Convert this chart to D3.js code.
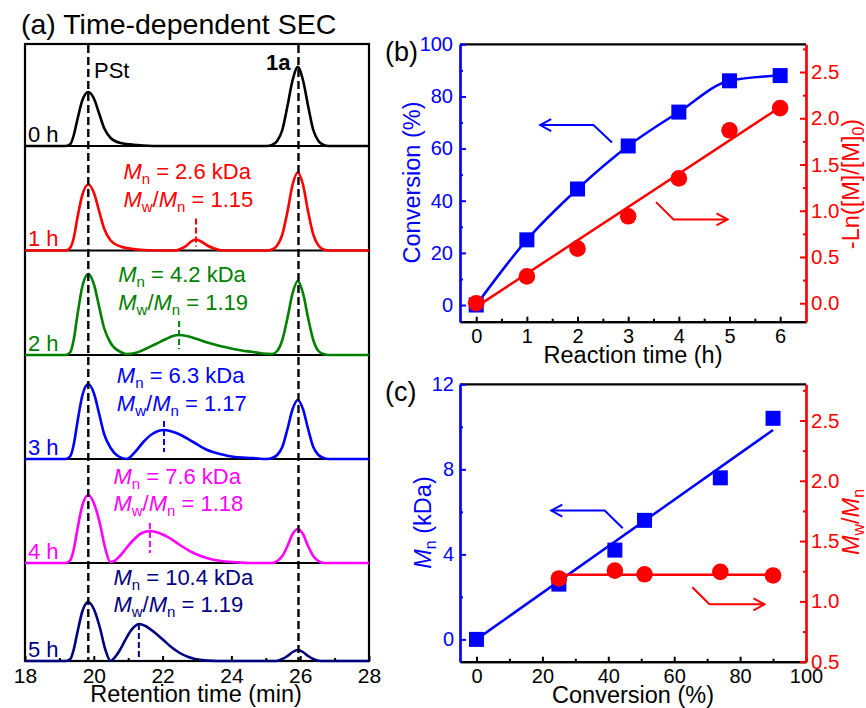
<!DOCTYPE html>
<html>
<head>
<meta charset="utf-8">
<title>Time-dependent SEC and kinetics</title>
<script src="https://cdn.jsdelivr.net/npm/d3@7"></script>
<style>
body { margin: 0; background: #fff; }
svg { font-family: "Liberation Sans", Arial, sans-serif; }
text { white-space: pre; }
</style>
</head>
<body>
<svg id="fig" width="866" height="708"></svg>
<script>
// ---- (a) SEC traces: [retention time (min), intensity] ----
const hourLabels = ["0 h", "1 h", "2 h", "3 h", "4 h", "5 h"];
const traceColors = ["#000000", "#ff0000", "#008000", "#0000ff", "#ff00ff", "#000080"];

const trace0h = [[18,0],[19.19,0],[19.32,0.02],[19.42,0.11],[19.52,0.26],[19.67,0.46],[19.84,0.54],[20.01,0.47],[20.15,0.33],[20.3,0.18],[20.49,0.08],[20.78,0.03],[21.27,0.01],[21.84,0],
  [25.03,0],[25.18,0.01],[25.33,0.05],[25.48,0.16],[25.63,0.4],[25.78,0.66],[25.93,0.79],[26.08,0.66],[26.23,0.4],[26.38,0.16],[26.53,0.05],[26.68,0.01],[26.83,0],[28,0]];
const trace1h = [[18,0],[19.19,0],[19.32,0.03],[19.42,0.13],[19.52,0.32],[19.67,0.56],[19.84,0.66],[20.01,0.57],[20.15,0.4],[20.3,0.22],[20.49,0.1],[20.78,0.04],[21.27,0.01],[21.84,0],
  [22.35,0],[22.55,0.02],[22.7,0.05],[22.83,0.09],[22.97,0.11],[23.12,0.09],[23.3,0.05],[23.5,0.02],[23.75,0],
  [25.03,0],[25.18,0.01],[25.33,0.05],[25.48,0.16],[25.63,0.39],[25.78,0.66],[25.93,0.78],[26.08,0.66],[26.23,0.39],[26.38,0.16],[26.53,0.05],[26.68,0.01],[26.83,0],[28,0]];
const trace2h = [[18,0],[19.19,0],[19.32,0.03],[19.42,0.16],[19.52,0.39],[19.67,0.69],[19.84,0.81],[20.01,0.7],[20.15,0.49],[20.3,0.27],[20.49,0.12],[20.78,0.03],[20.95,0.01],
  [21.2,0.02],[21.5,0.06],[21.8,0.11],[22.1,0.16],[22.3,0.19],[22.48,0.2],[22.7,0.19],[23.0,0.16],[23.35,0.12],[23.67,0.09],[24.0,0.065],[24.3,0.045],[24.63,0.03],[24.9,0.015],
  [25.18,0.01],[25.33,0.04],[25.48,0.15],[25.63,0.37],[25.78,0.62],[25.93,0.74],[26.08,0.62],[26.23,0.37],[26.38,0.15],[26.53,0.04],[26.68,0.01],[26.83,0],[28,0]];
const trace3h = [[18,0],[19.19,0],[19.32,0.03],[19.42,0.15],[19.52,0.36],[19.67,0.64],[19.84,0.75],[20.01,0.65],[20.15,0.46],[20.3,0.25],[20.49,0.11],[20.7,0.03],[20.96,0],
  [21.2,0.07],[21.44,0.17],[21.7,0.25],[22.04,0.29],[22.4,0.26],[22.89,0.17],[23.3,0.09],[23.67,0.05],[24.1,0.02],[24.63,0.01],
  [25.03,0],[25.18,0.01],[25.33,0.04],[25.48,0.12],[25.63,0.3],[25.78,0.5],[25.93,0.59],[26.08,0.5],[26.23,0.3],[26.38,0.12],[26.53,0.04],[26.68,0.01],[26.83,0],[28,0]];
const trace4h = [[18,0],[19.19,0],[19.32,0.03],[19.42,0.14],[19.52,0.33],[19.67,0.58],[19.84,0.68],[20.0,0.6],[20.18,0.39],[20.33,0.15],[20.48,0.01],
  [20.6,0.02],[20.76,0.07],[20.95,0.15],[21.15,0.23],[21.4,0.3],[21.63,0.32],[21.9,0.3],[22.2,0.25],[22.5,0.18],[22.9,0.1],[23.28,0.05],[23.7,0.02],[24.06,0.01],[24.5,0],
  [25.18,0],[25.33,0.02],[25.48,0.07],[25.63,0.17],[25.78,0.29],[25.93,0.34],[26.08,0.29],[26.23,0.17],[26.38,0.07],[26.53,0.02],[26.68,0],[28,0]];
const trace5h = [[18,0],[19.19,0],[19.32,0.02],[19.42,0.12],[19.52,0.28],[19.67,0.5],[19.84,0.59],[20.0,0.52],[20.18,0.33],[20.33,0.12],[20.49,0.0],
  [20.62,0.04],[20.76,0.11],[20.9,0.2],[21.05,0.29],[21.2,0.35],[21.32,0.37],[21.5,0.35],[21.75,0.29],[22.02,0.21],[22.25,0.14],[22.5,0.08],[22.75,0.04],[22.94,0.02],[23.3,0.005],[23.6,0],
  [25.3,0],[25.48,0.02],[25.63,0.05],[25.78,0.09],[25.93,0.11],[26.08,0.09],[26.23,0.05],[26.38,0.02],[26.6,0],[28,0]];
const traces = [trace0h, trace1h, trace2h, trace3h, trace4h, trace5h];

// polymer peak markers (1 h .. 5 h)
const markerTime = [22.97, 22.48, 22.04, 21.63, 21.31];
const markerTop = [0.32, 0.34, 0.38, 0.40, 0.37];
const markerBottom = [0.04, 0.06, 0.07, 0.10, 0.0];
const mnLabels = ["2.6", "4.2", "6.3", "7.6", "10.4"];
const pdiLabels = ["1.15", "1.19", "1.17", "1.18", "1.19"];
const refLines = [19.84, 25.95];   // PSt, 1a
const retTicks = [18, 20, 22, 24, 26, 28];
const retMinor = [19, 21, 23, 25, 27];

// ---- (b) kinetics ----
const timeH = [0, 1, 2, 3, 4, 5, 6];
const conversion = [0, 25, 44.5, 61, 74, 86, 88];
const lnM = [0.0, 0.29, 0.59, 0.94, 1.35, 1.87, 2.11];
const lnFitT = [0, 6];
const lnFitY = [-0.04, 2.12];
const timeTicks = [0, 1, 2, 3, 4, 5, 6];
const convTicks = [0, 20, 40, 60, 80, 100];
const lnTicks = [0, 0.5, 1.0, 1.5, 2.0, 2.5];
const arrowConvT = [2.68, 2.315, 1.263], arrowConvY = [62.3, 69.0, 69.0];
const arrowLnT = [3.55, 3.894, 4.96], arrowLnY = [1.093, 0.906, 0.906];

// ---- (c) Mn and dispersity vs conversion ----
const convC = [0, 25, 42, 51, 74, 90];
const mnC = [0, 2.6, 4.2, 5.6, 7.6, 10.4];
const convPdi = [25, 42, 51, 74, 90];
const pdiC = [1.19, 1.255, 1.225, 1.245, 1.215];
const mnFitX = [0, 90], mnFitY = [0, 9.85];
const pdiFitX = [25, 90], pdiFitY = [1.22, 1.22];
const convCTicks = [0, 20, 40, 60, 80, 100];
const mnTicks = [0, 4, 8, 12];
const pdiTicks = [0.5, 1.0, 1.5, 2.0, 2.5];
const arrowMnX = [44.4, 38.9, 22.7], arrowMnY = [5.23, 6.06, 6.06];
const arrowPdiX = [65.5, 70.7, 87.4], arrowPdiY = [1.117, 0.976, 0.976];

const BLUE = "#0000ff", RED = "#ff0000";
const svg = d3.select("#fig");

// arrow head markers
const defs = svg.append("defs");
[["headBlue", BLUE], ["headRed", RED]].forEach(([id, c]) => {
  defs.append("marker").attr("id", id)
    .attr("viewBox", "-13 -8 15 16").attr("markerWidth", 15).attr("markerHeight", 16)
    .attr("refX", 0).attr("refY", 0).attr("orient", "auto").attr("markerUnits", "userSpaceOnUse")
    .append("path").attr("d", "M-11,-6L0,0L-11,6")
    .attr("fill", "none").attr("stroke", c).attr("stroke-width", 2);
});

// ================= panel (a) =================
const xA = d3.scaleLinear().domain([18, 28]).range([25, 369]);
const stripEdges = [44, 146, 250.5, 355, 459, 563, 661];
const gA = svg.append("g");

gA.append("text").attr("x", 21).attr("y", 33.5).attr("font-size", 28.5)
  .text("(a) Time-dependent SEC");

// frame and strip separators
gA.append("rect").attr("x", 25).attr("y", 44).attr("width", 344).attr("height", 617)
  .attr("fill", "none").attr("stroke", "#000").attr("stroke-width", 2.2);
stripEdges.slice(1, 6).forEach(y => {
  gA.append("line").attr("x1", 25).attr("x2", 369).attr("y1", y).attr("y2", y)
    .attr("stroke", "#000").attr("stroke-width", 2.2);
});

traces.forEach((tr, i) => {
  const base = stripEdges[i + 1];
  const top = stripEdges[i];
  const yI = d3.scaleLinear().domain([0, 1]).range([base, base - 100]);
  const line = d3.line().x(d => xA(d[0])).y(d => yI(d[1])).curve(d3.curveMonotoneX);
  gA.append("path").attr("d", line(tr)).attr("fill", "none")
    .attr("stroke", traceColors[i]).attr("stroke-width", 2.6).attr("stroke-linejoin", "round");

  gA.append("text").attr("x", 28).attr("y", base - 4.5).attr("font-size", 22)
    .attr("fill", traceColors[i]).text(hourLabels[i]);

  if (i > 0) {
    const k = i - 1;
    gA.append("line")
      .attr("x1", xA(markerTime[k])).attr("x2", xA(markerTime[k]))
      .attr("y1", yI(markerTop[k])).attr("y2", yI(markerBottom[k]))
      .attr("stroke", traceColors[i]).attr("stroke-width", 2).attr("stroke-dasharray", "6,3");

    const annX = [20.86, 20.71, 20.67, 20.57, 20.57][k];
    const annY = top + [33, 31.6, 28.3, 24.7, 21.7][k];
    const t1 = gA.append("text").attr("x", xA(annX)).attr("y", annY)
      .attr("font-size", 22).attr("fill", traceColors[i]);
    t1.append("tspan").attr("font-style", "italic").text("M");
    t1.append("tspan").attr("font-size", 15).attr("dy", 5).text("n");
    t1.append("tspan").attr("dy", -5).text(" = " + mnLabels[k] + " kDa");

    const t2 = gA.append("text").attr("x", xA(annX)).attr("y", annY + 27.5)
      .attr("font-size", 22).attr("fill", traceColors[i]);
    t2.append("tspan").attr("font-style", "italic").text("M");
    t2.append("tspan").attr("font-size", 15).attr("dy", 5).text("w");
    t2.append("tspan").attr("dy", -5).text("/");
    t2.append("tspan").attr("font-style", "italic").text("M");
    t2.append("tspan").attr("font-size", 15).attr("dy", 5).text("n");
    t2.append("tspan").attr("dy", -5).text(" = " + pdiLabels[k]);
  }
});

refLines.forEach(t => {
  gA.append("line").attr("x1", xA(t)).attr("x2", xA(t)).attr("y1", 45).attr("y2", 660)
    .attr("stroke", "#000").attr("stroke-width", 2.4).attr("stroke-dasharray", "8,4");
});
gA.append("text").attr("x", 94).attr("y", 77.5).attr("font-size", 22).text("PSt");
gA.append("text").attr("x", 290.5).attr("y", 70).attr("font-size", 22)
  .attr("font-weight", "bold").attr("text-anchor", "end").text("1a");

const axA = gA.append("g").attr("transform", "translate(0,661)")
  .call(d3.axisBottom(xA).tickValues(retTicks).tickSizeInner(-5).tickSizeOuter(0).tickFormat(d3.format("d")));
axA.select(".domain").remove();
axA.selectAll("line").attr("stroke-width", 2);
axA.selectAll("text").attr("y", 22).attr("dy", null).attr("font-size", 21)
  .attr("font-family", "Liberation Sans, Arial, sans-serif").attr("fill", "#000");
const axA2 = gA.append("g").attr("transform", "translate(0,661)")
  .call(d3.axisBottom(xA).tickValues(retMinor).tickSizeInner(-3).tickSizeOuter(0).tickFormat(""));
axA2.select(".domain").remove();
axA2.selectAll("line").attr("stroke-width", 2);
gA.append("text").attr("x", 196).attr("y", 701.5).attr("font-size", 23.5)
  .attr("text-anchor", "middle").text("Retention time (min)");

// ============ helpers for (b) and (c) ============
function styleAxis(g, color, size) {
  g.select(".domain").attr("stroke", color).attr("stroke-width", 2.2);
  g.selectAll(".tick line").attr("stroke", color).attr("stroke-width", 2);
  g.selectAll(".tick text").attr("fill", color).attr("font-size", size)
    .attr("font-family", "Liberation Sans, Arial, sans-serif");
}
function frameLines(g, x0, x1, y0, y1) {
  g.append("line").attr("x1", x0).attr("x2", x1).attr("y1", y0).attr("y2", y0)
    .attr("stroke", "#000").attr("stroke-width", 2.2);
}
function drawArrow(g, xs, ys, xScale, yScale, color, headId) {
  const pts = xs.map((x, i) => [xScale(x), yScale(ys[i])]);
  g.append("path").attr("d", d3.line()(pts)).attr("fill", "none")
    .attr("stroke", color).attr("stroke-width", 2).attr("marker-end", `url(#${headId})`);
}
function squares(g, xs, ys, xScale, yScale) {
  g.selectAll(null).data(xs).join("rect")
    .attr("x", (d) => xScale(d) - 7.5).attr("y", (d, i) => yScale(ys[i]) - 7.5)
    .attr("width", 15).attr("height", 15).attr("fill", BLUE);
}
function circles(g, xs, ys, xScale, yScale) {
  g.selectAll(null).data(xs).join("circle")
    .attr("cx", d => xScale(d)).attr("cy", (d, i) => yScale(ys[i]))
    .attr("r", 8.3).attr("fill", RED);
}
function yTitle(g, x, y, color) {
  return g.append("text").attr("transform", `translate(${x},${y}) rotate(-90)`)
    .attr("text-anchor", "middle").attr("font-size", 23.5).attr("fill", color);
}

// ================= panel (b) =================
const gB = svg.append("g");
const xB = d3.scaleLinear().domain([-0.32, 6.51]).range([460, 806]);
const yBL = d3.scaleLinear().domain([-6.4, 100]).range([321.7, 44.3]);
const yBR = d3.scaleLinear().domain([-0.2, 2.8]).range([321.7, 44.3]);

frameLines(gB, 460, 806, 44.3, 44.3);
const bx = gB.append("g").attr("transform", "translate(0,321.7)")
  .call(d3.axisBottom(xB).tickValues(timeTicks).tickSizeInner(-5).tickSizeOuter(0).tickFormat(d3.format("d")));
styleAxis(bx, "#000", 20);
bx.selectAll(".tick text").attr("y", 21.5).attr("dy", null);
const bx2 = gB.append("g").attr("transform", "translate(0,321.7)")
  .call(d3.axisBottom(xB).tickValues(timeTicks.slice(0, 6).map((d, i) => timeTicks[i] + 0.5)).tickSizeInner(-3).tickSizeOuter(0).tickFormat(""));
styleAxis(bx2, "#000", 20);

const bl = gB.append("g").attr("transform", "translate(460,0)")
  .call(d3.axisLeft(yBL).tickValues(convTicks).tickSizeInner(-6).tickSizeOuter(0).tickPadding(7));
styleAxis(bl, BLUE, 20);
const bl2 = gB.append("g").attr("transform", "translate(460,0)")
  .call(d3.axisLeft(yBL).tickValues([10, 30, 50, 70, 90]).tickSizeInner(-3).tickSizeOuter(0).tickFormat(""));
styleAxis(bl2, BLUE, 20);

const br = gB.append("g").attr("transform", "translate(806,0)")
  .call(d3.axisRight(yBR).tickValues(lnTicks).tickSizeInner(-6).tickSizeOuter(0).tickPadding(5).tickFormat(d3.format(".1f")));
styleAxis(br, RED, 20.5);
const br2 = gB.append("g").attr("transform", "translate(806,0)")
  .call(d3.axisRight(yBR).tickValues([0.25, 0.75, 1.25, 1.75, 2.25, 2.75]).tickSizeInner(-3).tickSizeOuter(0).tickFormat(""));
styleAxis(br2, RED, 20);

gB.append("path").attr("d", d3.line().x((d, i) => xB(timeH[i])).y(d => yBL(d)).curve(d3.curveMonotoneX)(conversion))
  .attr("fill", "none").attr("stroke", BLUE).attr("stroke-width", 2.5);
gB.append("path").attr("d", d3.line().x((d, i) => xB(lnFitT[i])).y(d => yBR(d))(lnFitY))
  .attr("fill", "none").attr("stroke", RED).attr("stroke-width", 2.5);
squares(gB, timeH, conversion, xB, yBL);
circles(gB, timeH, lnM, xB, yBR);
drawArrow(gB, arrowConvT, arrowConvY, xB, yBL, BLUE, "headBlue");
drawArrow(gB, arrowLnT, arrowLnY, xB, yBR, RED, "headRed");

gB.append("text").attr("x", 385).attr("y", 61).attr("font-size", 27).text("(b)");
gB.append("text").attr("x", 633).attr("y", 363.3).attr("font-size", 23.5)
  .attr("text-anchor", "middle").text("Reaction time (h)");
yTitle(gB, 420, 182.5, BLUE).text("Conversion (%)");
const lnT = yTitle(gB, 859, 184, RED);
lnT.append("tspan").text("-Ln([M]/[M]");
lnT.append("tspan").attr("font-size", 16).attr("dy", 5).text("0");
lnT.append("tspan").attr("dy", -5).text(")");

// ================= panel (c) =================
const gC = svg.append("g");
const xC = d3.scaleLinear().domain([-5, 100]).range([460, 806]);
const yCL = d3.scaleLinear().domain([-1.05, 12]).range([661.7, 384.3]);
const yCR = d3.scaleLinear().domain([0.5, 2.8]).range([661.7, 384.3]);

frameLines(gC, 460, 806, 384.3, 384.3);
const cx = gC.append("g").attr("transform", "translate(0,661.7)")
  .call(d3.axisBottom(xC).tickValues(convCTicks).tickSizeInner(-5).tickSizeOuter(0).tickFormat(d3.format("d")));
styleAxis(cx, "#000", 20);
cx.selectAll(".tick text").attr("y", 21.5).attr("dy", null);
const cx2 = gC.append("g").attr("transform", "translate(0,661.7)")
  .call(d3.axisBottom(xC).tickValues([10, 30, 50, 70, 90]).tickSizeInner(-3).tickSizeOuter(0).tickFormat(""));
styleAxis(cx2, "#000", 20);

const cl = gC.append("g").attr("transform", "translate(460,0)")
  .call(d3.axisLeft(yCL).tickValues(mnTicks).tickSizeInner(-6).tickSizeOuter(0).tickPadding(6));
styleAxis(cl, BLUE, 20);
const cl2 = gC.append("g").attr("transform", "translate(460,0)")
  .call(d3.axisLeft(yCL).tickValues([2, 6, 10]).tickSizeInner(-3).tickSizeOuter(0).tickFormat(""));
styleAxis(cl2, BLUE, 20);

const cr = gC.append("g").attr("transform", "translate(806,0)")
  .call(d3.axisRight(yCR).tickValues(pdiTicks).tickSizeInner(-6).tickSizeOuter(0).tickPadding(5).tickFormat(d3.format(".1f")));
styleAxis(cr, RED, 20.5);
const cr2 = gC.append("g").attr("transform", "translate(806,0)")
  .call(d3.axisRight(yCR).tickValues([0.75, 1.25, 1.75, 2.25, 2.75]).tickSizeInner(-3).tickSizeOuter(0).tickFormat(""));
styleAxis(cr2, RED, 20);

gC.append("path").attr("d", d3.line().x((d, i) => xC(mnFitX[i])).y(d => yCL(d))(mnFitY))
  .attr("fill", "none").attr("stroke", BLUE).attr("stroke-width", 2.5);
gC.append("path").attr("d", d3.line().x((d, i) => xC(pdiFitX[i])).y(d => yCR(d))(pdiFitY))
  .attr("fill", "none").attr("stroke", RED).attr("stroke-width", 2.5);
squares(gC, convC, mnC, xC, yCL);
circles(gC, convPdi, pdiC, xC, yCR);
drawArrow(gC, arrowMnX, arrowMnY, xC, yCL, BLUE, "headBlue");
drawArrow(gC, arrowPdiX, arrowPdiY, xC, yCR, RED, "headRed");

gC.append("text").attr("x", 385).attr("y", 401).attr("font-size", 27).text("(c)");
gC.append("text").attr("x", 633).attr("y", 703.3).attr("font-size", 23.5)
  .attr("text-anchor", "middle").text("Conversion (%)");
const mnT = yTitle(gC, 431, 522.5, BLUE);
mnT.append("tspan").attr("font-style", "italic").text("M");
mnT.append("tspan").attr("font-size", 16).attr("dy", 5).text("n");
mnT.append("tspan").attr("dy", -5).text(" (kDa)");
const pdT = yTitle(gC, 859, 522, RED);
pdT.append("tspan").attr("font-style", "italic").text("M");
pdT.append("tspan").attr("font-size", 16).attr("dy", 5).text("w");
pdT.append("tspan").attr("dy", -5).text("/");
pdT.append("tspan").attr("font-style", "italic").text("M");
pdT.append("tspan").attr("font-size", 16).attr("dy", 5).text("n");
</script>
</body>
</html>
